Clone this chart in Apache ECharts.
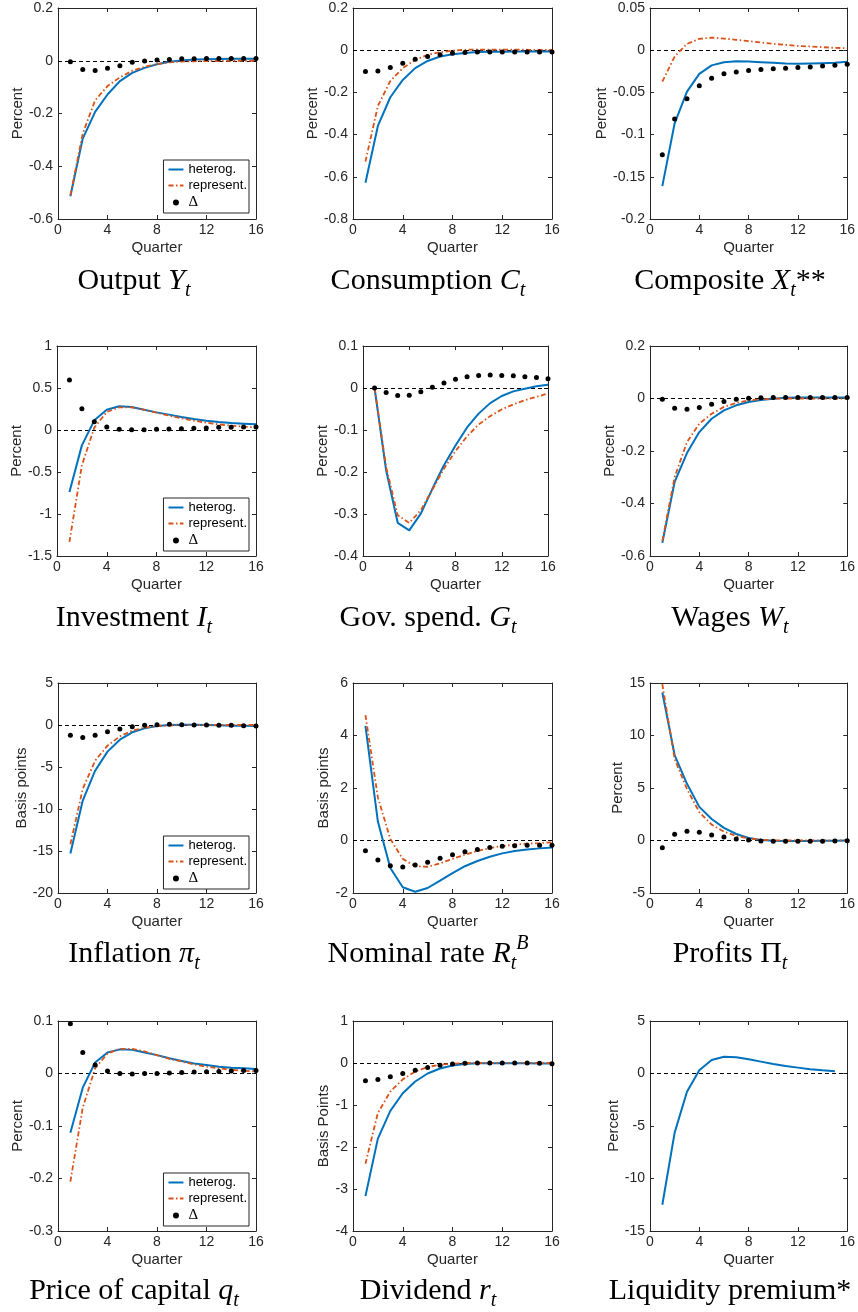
<!DOCTYPE html>
<html>
<head>
<meta charset="utf-8">
<title>Impulse responses</title>
<script src="https://cdn.jsdelivr.net/npm/echarts@6/dist/echarts.min.js"></script>
<style>
  html, body { margin: 0; padding: 0; background: #fff; }
  #chart { width: 858px; height: 1312px; }
</style>
</head>
<body>
<div id="chart"></div>
<script>
// quarters on the x axis
var quarters = [1, 2, 3, 4, 5, 6, 7, 8, 9, 10, 11, 12, 13, 14, 15, 16];

// Output
var outputHet = [-0.514, -0.295, -0.194, -0.128, -0.077, -0.046, -0.027, -0.013, -0.004, 0.001, 0.005, 0.006, 0.007, 0.008, 0.008, 0.008];
var outputRep = [-0.51, -0.276, -0.15, -0.096, -0.063, -0.038, -0.023, -0.013, -0.006, -0.003, -0.002, -0.001, -0.001, 0, 0, 0];
var outputDelta = [-0.004, -0.033, -0.037, -0.028, -0.019, -0.006, -0.001, 0.003, 0.005, 0.008, 0.008, 0.009, 0.009, 0.009, 0.009, 0.009];

// Consumption
var consHet = [-0.628, -0.359, -0.223, -0.141, -0.085, -0.051, -0.030, -0.019, -0.013, -0.009, -0.007, -0.007, -0.006, -0.006, -0.006, -0.006];
var consRep = [-0.528, -0.264, -0.146, -0.085, -0.046, -0.022, -0.010, -0.002, 0.002, 0.003, 0.003, 0.003, 0.003, 0.002, 0.002, 0.002];
var consDelta = [-0.101, -0.098, -0.082, -0.062, -0.043, -0.030, -0.021, -0.014, -0.011, -0.008, -0.008, -0.008, -0.008, -0.008, -0.008, -0.008];

// Composite
var compHet = [-0.161, -0.0866, -0.049, -0.028, -0.018, -0.0142, -0.013, -0.0134, -0.0142, -0.015, -0.0158, -0.0162, -0.0158, -0.0154, -0.015, -0.0138];
var compRep = [-0.0372, -0.0075, 0.0075, 0.0134, 0.015, 0.0138, 0.0123, 0.0107, 0.0091, 0.0075, 0.0063, 0.0051, 0.0044, 0.0036, 0.0028, 0.0024];
var compDelta = [-0.124, -0.0815, -0.0574, -0.042, -0.0332, -0.028, -0.0257, -0.024, -0.023, -0.022, -0.0214, -0.0206, -0.0198, -0.0186, -0.0178, -0.0166];

// Investment
var invHet = [-0.738, -0.183, 0.115, 0.242, 0.282, 0.274, 0.242, 0.21, 0.183, 0.155, 0.131, 0.111, 0.095, 0.083, 0.075, 0.067];
var invRep = [-1.333, -0.42, 0.028, 0.214, 0.27, 0.27, 0.242, 0.206, 0.171, 0.139, 0.111, 0.087, 0.067, 0.052, 0.04, 0.032];
var invDelta = [0.595, 0.254, 0.099, 0.036, 0.008, 0.004, 0.004, 0.008, 0.012, 0.016, 0.02, 0.024, 0.032, 0.032, 0.036, 0.036];

// Gov. spending
var govHet = [0, -0.196, -0.321, -0.339, -0.299, -0.24, -0.184, -0.137, -0.094, -0.061, -0.036, -0.019, -0.008, -0.002, 0.004, 0.008];
var govRep = [0, -0.188, -0.303, -0.321, -0.291, -0.242, -0.192, -0.15, -0.115, -0.087, -0.067, -0.051, -0.039, -0.029, -0.021, -0.013];
var govDelta = [0, -0.011, -0.018, -0.017, -0.009, 0.002, 0.012, 0.021, 0.027, 0.03, 0.031, 0.03, 0.029, 0.027, 0.025, 0.022];

// Wages
var wageHet = [-0.55, -0.318, -0.208, -0.128, -0.077, -0.045, -0.026, -0.013, -0.006, -0.001, 0.003, 0.004, 0.004, 0.004, 0.004, 0.004];
var wageRep = [-0.543, -0.299, -0.166, -0.096, -0.058, -0.032, -0.017, -0.007, -0.003, -0.001, 0, 0, 0, 0, 0, 0];
var wageDelta = [-0.003, -0.037, -0.041, -0.034, -0.022, -0.011, -0.003, 0.001, 0.003, 0.004, 0.004, 0.004, 0.004, 0.004, 0.004, 0.004];

// Inflation
var inflHet = [-15.3, -9.0, -5.44, -3.17, -1.75, -0.87, -0.4, -0.12, 0, 0.04, 0.04, 0, -0.04, -0.08, -0.08, -0.12];
var inflRep = [-14.2, -7.6, -4.25, -2.46, -1.35, -0.67, -0.32, -0.12, -0.04, 0, 0, 0, 0, 0, 0, 0];
var inflDelta = [-1.23, -1.5, -1.23, -0.79, -0.48, -0.2, -0.04, 0.04, 0.08, 0.04, 0, 0, -0.04, -0.04, -0.08, -0.12];

// Nominal rate
var rateHet = [4.37, 0.72, -1.05, -1.78, -1.95, -1.81, -1.53, -1.24, -0.98, -0.78, -0.62, -0.49, -0.4, -0.34, -0.3, -0.27];
var rateRep = [4.78, 1.64, 0.06, -0.7, -0.98, -1.0, -0.87, -0.7, -0.54, -0.4, -0.29, -0.21, -0.16, -0.12, -0.1, -0.07];
var rateDelta = [-0.39, -0.74, -0.96, -1.01, -0.93, -0.83, -0.68, -0.54, -0.43, -0.34, -0.27, -0.22, -0.2, -0.18, -0.18, -0.18];

// Profits
var profHet = [14.1, 8.14, 5.4, 3.2, 2.05, 1.2, 0.62, 0.24, 0.05, -0.03, -0.05, -0.05, -0.04, -0.03, -0.02, -0.01];
var profRep = [14.9, 7.76, 4.9, 2.7, 1.51, 0.84, 0.43, 0.2, 0.08, 0.02, 0, 0, 0, 0, 0, 0];
var profDelta = [-0.68, 0.59, 0.87, 0.78, 0.52, 0.33, 0.14, 0.05, -0.05, -0.08, -0.08, -0.08, -0.07, -0.06, -0.05, -0.03];

// Price of capital
var capHet = [-0.113, -0.027, 0.021, 0.04, 0.046, 0.045, 0.04, 0.035, 0.029, 0.024, 0.019, 0.016, 0.013, 0.011, 0.01, 0.0086];
var capRep = [-0.206, -0.065, 0.01, 0.038, 0.047, 0.047, 0.042, 0.035, 0.028, 0.023, 0.017, 0.013, 0.01, 0.007, 0.005, 0.004];
var capDelta = [0.095, 0.04, 0.016, 0.005, 0, -0.001, 0, 0, 0.001, 0.002, 0.003, 0.0035, 0.004, 0.005, 0.0055, 0.0055];

// Dividend
var divHet = [-3.17, -1.8, -1.14, -0.72, -0.44, -0.25, -0.13, -0.06, -0.024, -0.008, -0.008, -0.008, -0.008, -0.008, -0.01, -0.01];
var divRep = [-2.4, -1.19, -0.68, -0.39, -0.205, -0.095, -0.04, -0.016, 0, 0, 0, 0, 0, 0, 0, 0];
var divDelta = [-0.42, -0.39, -0.33, -0.25, -0.17, -0.11, -0.055, -0.024, -0.008, 0, 0, 0, 0, 0, -0.008, -0.016];

// Liquidity premium (heterog. only, quarters 1-15)
var liqHet = [-12.5, -5.63, -1.73, 0.3, 1.29, 1.6, 1.54, 1.35, 1.13, 0.9, 0.71, 0.56, 0.4, 0.3, 0.21];

// y axis ticks: [min, max, step]
var yTicks = [
  [-0.6, 0.2, 0.2], [-0.8, 0.2, 0.2], [-0.2, 0.05, 0.05],
  [-1.5, 1, 0.5], [-0.4, 0.1, 0.1], [-0.6, 0.2, 0.2],
  [-20, 5, 5], [-2, 6, 2], [-5, 15, 5],
  [-0.3, 0.1, 0.1], [-4, 1, 1], [-15, 5, 5]
];
var yNames = ['Percent', 'Percent', 'Percent', 'Percent', 'Percent', 'Percent',
  'Basis points', 'Basis points', 'Percent', 'Percent', 'Basis Points', 'Percent'];
var titles = [
  'Output {i|Y}{s|t}', 'Consumption {i|C}{s|t}', 'Composite {i|X}{s|t}**',
  'Investment {i|I}{s|t}', 'Gov. spend. {i|G}{s|t}', 'Wages {i|W}{s|t}',
  'Inflation {i|π}{s|t}', 'Nominal rate {i|R}{s|t}{p|B}', 'Profits Π{s|t}',
  'Price of capital {i|q}{s|t}', 'Dividend {i|r}{s|t}', 'Liquidity premium*'
];
var seriesData = [
  [outputHet, outputRep, outputDelta], [consHet, consRep, consDelta], [compHet, compRep, compDelta],
  [invHet, invRep, invDelta], [govHet, govRep, govDelta], [wageHet, wageRep, wageDelta],
  [inflHet, inflRep, inflDelta], [rateHet, rateRep, rateDelta], [profHet, profRep, profDelta],
  [capHet, capRep, capDelta], [divHet, divRep, divDelta], [liqHet]
];

// layout: plot box [left, top, right, bottom] in px, y name gap
var boxes = [
  [58, 8, 256, 219], [353, 8, 552, 219], [650, 8, 849, 219],
  [57, 346, 256, 556], [363, 346, 548, 556], [650, 346, 849, 556],
  [58, 683, 256, 893], [353, 683, 552, 893], [650, 683, 849, 893],
  [58, 1021, 256, 1231], [353, 1021, 552, 1231], [650, 1021, 849, 1231]
];
var nameGaps = [33, 33, 40, 33, 33, 33, 29, 21, 25, 33, 21, 29];
var titleX = [134, 428, 730];
var titleY = [281, 618, 954, 1291];
var legendPanels = [0, 3, 6, 9];
var legendBottoms = [1099, 761, 423, 86];

var axisColor = '#262626';
var blue = '#0072BD';
var orange = '#D95319';

var chart = echarts.init(document.getElementById('chart'));
var option = {
  animation: false,
  backgroundColor: '#fff',
  title: [],
  grid: [],
  xAxis: [],
  yAxis: [],
  legend: [],
  series: []
};

function pairs(vals) {
  return vals.map(function (v, k) { return [quarters[k], v]; });
}

for (var i = 0; i < 12; i++) {
  var b = boxes[i];
  option.grid.push({ left: b[0], top: b[1], width: b[2] - b[0], height: b[3] - b[1], containLabel: false });

  var xBase = {
    type: 'value', gridIndex: i, min: 0, max: 16, interval: 4,
    axisLine: { show: true, onZero: false, lineStyle: { color: axisColor, width: 1 } },
    axisTick: { show: true, inside: true, length: 4, lineStyle: { color: axisColor } },
    splitLine: { show: false }
  };
  option.xAxis.push(Object.assign({}, xBase, {
    position: 'bottom',
    axisLabel: { show: true, fontSize: 14, fontFamily: 'Liberation Sans', color: axisColor, margin: 4, showMinLabel: true, showMaxLabel: true },
    name: 'Quarter', nameLocation: 'middle', nameGap: 21,
    nameTextStyle: { fontSize: 15, fontFamily: 'Liberation Sans', color: axisColor }
  }));
  option.xAxis.push(Object.assign({}, xBase, { position: 'top', axisLabel: { show: false } }));

  var t = yTicks[i];
  var yBase = {
    type: 'value', gridIndex: i, min: t[0], max: t[1], interval: t[2],
    axisLine: { show: true, onZero: false, lineStyle: { color: axisColor, width: 1 } },
    axisTick: { show: true, inside: true, length: 4, lineStyle: { color: axisColor } },
    splitLine: { show: false }
  };
  option.yAxis.push(Object.assign({}, yBase, {
    position: 'left',
    axisLabel: { show: true, fontSize: 14, fontFamily: 'Liberation Sans', color: axisColor, margin: 5, showMinLabel: true, showMaxLabel: true },
    name: yNames[i], nameLocation: 'middle', nameGap: nameGaps[i],
    nameTextStyle: { fontSize: 15, fontFamily: 'Liberation Sans', color: axisColor }
  }));
  option.yAxis.push(Object.assign({}, yBase, { position: 'right', axisLabel: { show: false } }));

  option.title.push({
    text: titles[i],
    left: titleX[i % 3], top: titleY[Math.floor(i / 3)] - 20,
    textAlign: 'center', padding: 0,
    textStyle: {
      fontFamily: 'Liberation Serif', fontSize: 30, fontWeight: 'normal', color: '#000', lineHeight: 40,
      rich: {
        i: { fontFamily: 'Liberation Serif', fontStyle: 'italic', fontSize: 30, lineHeight: 40 },
        s: { fontFamily: 'Liberation Serif', fontStyle: 'italic', fontSize: 20, lineHeight: 20, verticalAlign: 'bottom' },
        p: { fontFamily: 'Liberation Serif', fontStyle: 'italic', fontSize: 20, lineHeight: 20, verticalAlign: 'top' }
      }
    }
  });

  var d = seriesData[i];
  option.series.push({
    name: 'heterog.', type: 'line', xAxisIndex: 2 * i, yAxisIndex: 2 * i,
    data: pairs(d[0]), symbol: 'none', showSymbol: false,
    lineStyle: { color: blue, width: 2 }, itemStyle: { color: blue }, z: 3,
    markLine: {
      silent: true, symbol: ['none', 'none'], z: 1, animation: false,
      label: { show: false },
      lineStyle: { color: '#000', width: 1, type: [4, 3] },
      data: [{ yAxis: 0 }]
    }
  });
  if (d.length > 1) {
    option.series.push({
      name: 'represent.', type: 'line', xAxisIndex: 2 * i, yAxisIndex: 2 * i,
      data: pairs(d[1]), symbol: 'none', showSymbol: false,
      lineStyle: { color: orange, width: 1.8, type: [5, 2.5, 1.5, 2.5] }, itemStyle: { color: orange }, z: 4
    });
    option.series.push({
      name: 'Δ', type: 'scatter', xAxisIndex: 2 * i, yAxisIndex: 2 * i,
      data: pairs(d[2]), symbol: 'circle', symbolSize: 5,
      itemStyle: { color: '#000', opacity: 1 }, z: 5
    });
  }
}

// legends in the left column
legendPanels.forEach(function (p, k) {
  option.legend.push({
    orient: 'vertical', right: 858 - 249, bottom: legendBottoms[k],
    data: [
      { name: 'heterog.', itemStyle: { opacity: 0 } },
      { name: 'represent.', itemStyle: { opacity: 0 } },
      { name: 'Δ' }
    ],
    selectedMode: false,
    itemWidth: 15, itemHeight: 6, itemGap: 3,
    padding: [3, 2, 3, 4],
    backgroundColor: '#fff', borderColor: axisColor, borderWidth: 1, borderRadius: 0,
    textStyle: { fontSize: 13, fontFamily: 'Liberation Sans', color: '#000',
      rich: { d: { fontFamily: 'Liberation Serif', fontSize: 15, color: '#000' } } },
    formatter: function (name) { return name === 'Δ' ? '{d|Δ}' : name; }
  });
});

chart.setOption(option);
</script>
</body>
</html>
